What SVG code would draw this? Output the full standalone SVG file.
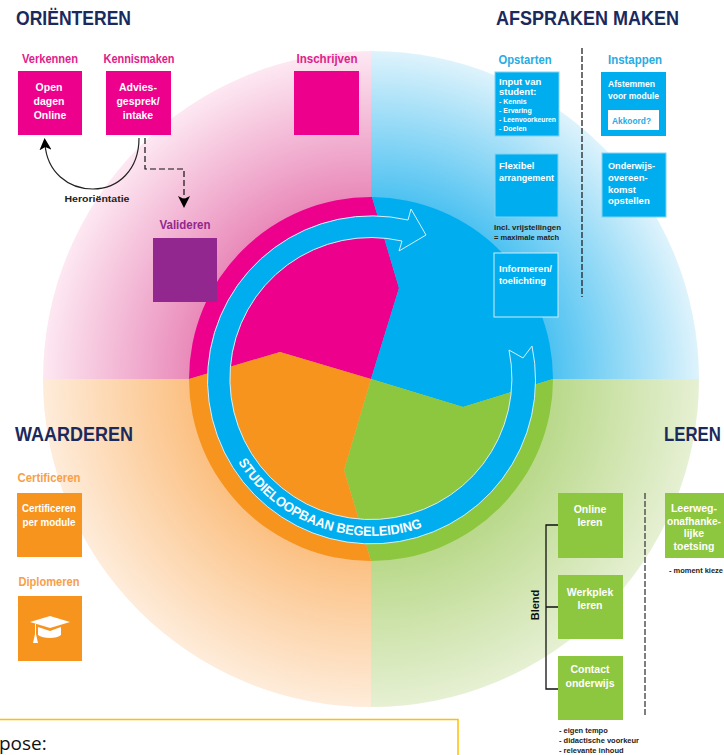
<svg xmlns="http://www.w3.org/2000/svg" xmlns:xlink="http://www.w3.org/1999/xlink" width="724" height="755" viewBox="0 0 724 755">
<style>
text{font-family:"Liberation Sans",Arial,sans-serif}
.h{font-size:21px;font-weight:700;fill:#1b2a5c}
.lab{font-size:12px;font-weight:700;text-anchor:middle}
.in{font-size:10.5px;font-weight:700;fill:#fff;text-anchor:middle}
.inl{font-size:9.5px;font-weight:700;fill:#fff}
.sm{font-size:7px;font-weight:700;fill:#fff}
.note{font-size:7.5px;font-weight:700;fill:#222}
.pink{fill:#ec008c}.blue{fill:#00aeef}.green{fill:#8dc63f}.orange{fill:#f7941d}
</style>
<defs>
<radialGradient id="gp" gradientUnits="userSpaceOnUse" cx="371" cy="379" r="328"><stop offset="0.5" stop-color="#e77fb3"/><stop offset="1" stop-color="#fde8f2"/></radialGradient>
<radialGradient id="gb" gradientUnits="userSpaceOnUse" cx="371" cy="379" r="328"><stop offset="0.5" stop-color="#3dbcf0"/><stop offset="1" stop-color="#def3fc"/></radialGradient>
<radialGradient id="gg" gradientUnits="userSpaceOnUse" cx="371" cy="379" r="328"><stop offset="0.5" stop-color="#b4d682"/><stop offset="1" stop-color="#e6f0d3"/></radialGradient>
<radialGradient id="go" gradientUnits="userSpaceOnUse" cx="371" cy="379" r="328"><stop offset="0.5" stop-color="#fbbb78"/><stop offset="1" stop-color="#feecda"/></radialGradient>
<marker id="ah" viewBox="0 0 12 12" refX="6" refY="6" markerWidth="12" markerHeight="12" orient="auto" markerUnits="userSpaceOnUse"><path d="M0,0L12,6L0,12L3,6Z" fill="#000"/></marker>
<path id="ringtext" d="M 238 462 A 157 157 0 0 0 440 520"/>
</defs>
<rect width="724" height="755" fill="#fff"/>
<g id="background">
<path d="M371,379V51A328,328 0 0 0 43,379Z" fill="url(#gp)"/>
<path d="M371,379V51A328,328 0 0 1 699,379Z" fill="url(#gb)"/>
<path d="M371,379H699A328,328 0 0 1 371,707Z" fill="url(#gg)"/>
<path d="M371,379H43A328,328 0 0 0 371,707Z" fill="url(#go)"/>
</g>
<g id="wheel">
<path class="pink" d="M371,379L399,288L372,197A182,182 0 0 0 189,379L280,352Z"/>
<path class="blue" d="M371,379L399,288L372,197A182,182 0 0 1 553,379L463,407Z"/>
<path class="green" d="M371,379L463,407L553,379A182,182 0 0 1 371,561L344,470Z"/>
<path class="orange" d="M371,379L344,470L371,561A182,182 0 0 1 189,379L280,352Z"/>
</g>
<g id="connectors">
<path d="M139,138C139,170 118,189 93,189C68,189 47,172 45,144" fill="none" stroke="#222" stroke-width="1.2" marker-end="url(#ah)"/>
<path d="M145,138V169H184V202" fill="none" stroke="#111" stroke-width="1.2" stroke-dasharray="6 3" marker-end="url(#ah)"/>
<path d="M582,48V297" fill="none" stroke="#222" stroke-width="1.3" stroke-dasharray="6 2"/>
<path d="M645,493V717" fill="none" stroke="#555" stroke-width="1.5" stroke-dasharray="6 2"/>
<path d="M558,525H546V689H558M546,607H558" fill="none" stroke="#111" stroke-width="1.3"/>
</g>
<g id="ring">
<path class="blue" stroke="#d5effa" stroke-width="1" d="M408,220L411,209L426,235L399,251L402,241A141,141 0 1 0 509,350L523,358L532,346A164,164 0 1 1 408,220Z"/>
<text font-size="13.500" font-weight="700" fill="#fff"><textPath href="#ringtext" xlink:href="#ringtext" textLength="211" lengthAdjust="spacingAndGlyphs">STUDIELOOPBAAN BEGELEIDING</textPath></text>
</g>
<g id="title-orienteren"><text class="h" x="16" y="25" textLength="115" lengthAdjust="spacingAndGlyphs">ORIËNTEREN</text></g>
<g id="title-afspraken"><text class="h" x="496" y="25" textLength="183" lengthAdjust="spacingAndGlyphs">AFSPRAKEN MAKEN</text></g>
<g id="title-waarderen"><text class="h" x="15" y="441" textLength="118" lengthAdjust="spacingAndGlyphs">WAARDEREN</text></g>
<g id="title-leren"><text class="h" transform="translate(664,441) scale(.8,1)">LEREN</text></g>
<g id="verkennen"><text class="lab" x="50" y="63" fill="#e0218a" textLength="56" lengthAdjust="spacingAndGlyphs">Verkennen</text><rect class="pink" x="18" y="71" width="64" height="64"/><text class="in" x="49" y="91">Open</text><text class="in" x="49" y="105">dagen</text><text class="in" x="50" y="119">Online</text></g>
<g id="kennismaken"><text class="lab" x="139" y="63" fill="#e0218a" textLength="71" lengthAdjust="spacingAndGlyphs">Kennismaken</text><rect class="pink" x="106" y="71" width="65" height="64"/><text class="in" x="138" y="91">Advies-</text><text class="in" x="138" y="105">gesprek/</text><text class="in" x="138" y="119">intake</text></g>
<g id="inschrijven"><text class="lab" x="327" y="63" fill="#e0218a" textLength="61" lengthAdjust="spacingAndGlyphs">Inschrijven</text><rect class="pink" x="294" y="71" width="65" height="64"/></g>
<g id="valideren"><text class="lab" x="185" y="229" fill="#92278f" textLength="51" lengthAdjust="spacingAndGlyphs">Valideren</text><rect x="153" y="238" width="64" height="64" fill="#92278f"/></g>
<g id="heroriëntatie"><text x="97" y="202" font-size="9" font-weight="700" fill="#222" text-anchor="middle" textLength="65" lengthAdjust="spacingAndGlyphs">Heroriëntatie</text></g>
<g id="opstarten"><text class="lab" x="525" y="64" fill="#29abe2" textLength="53" lengthAdjust="spacingAndGlyphs">Opstarten</text></g>
<g id="input"><rect class="blue" x="495" y="72" width="64" height="64" stroke="#7fd3f5"/><text class="inl" x="499" y="85">Input van</text><text class="inl" x="499" y="95">student:</text><text class="sm" x="499" y="104">- Kennis</text><text class="sm" x="499" y="113">- Ervaring</text><text class="sm" x="499" y="122" textLength="57" lengthAdjust="spacingAndGlyphs">- Leenvoorkeuren</text><text class="sm" x="499" y="131">- Doelen</text></g>
<g id="flexibel"><rect class="blue" x="495" y="154" width="63" height="63" stroke="#7fd3f5"/><text class="inl" x="499" y="169">Flexibel</text><text class="inl" x="499" y="181" textLength="55" lengthAdjust="spacingAndGlyphs">arrangement</text></g>
<g id="vrijstellingen"><text class="note" x="494" y="230" textLength="67" lengthAdjust="spacingAndGlyphs">Incl. vrijstellingen</text><text class="note" x="494" y="240" textLength="65" lengthAdjust="spacingAndGlyphs">= maximale match</text></g>
<g id="informeren"><rect class="blue" x="494" y="253" width="64" height="64" stroke="#cdeefb"/><text class="inl" x="499" y="272" textLength="53" lengthAdjust="spacingAndGlyphs">Informeren/</text><text class="inl" x="499" y="284" textLength="47" lengthAdjust="spacingAndGlyphs">toelichting</text></g>
<g id="instappen"><text class="lab" x="635" y="64" fill="#29abe2" textLength="54" lengthAdjust="spacingAndGlyphs">Instappen</text></g>
<g id="afstemmen"><rect class="blue" x="601" y="72" width="65" height="64"/><text class="inl" x="608" y="87" textLength="47" lengthAdjust="spacingAndGlyphs">Afstemmen</text><text class="inl" x="608" y="99" textLength="51" lengthAdjust="spacingAndGlyphs">voor module</text><rect x="608" y="110" width="51" height="20" fill="#fff"/><text x="612" y="124" font-size="9.500" font-weight="700" fill="#29abe2" textLength="39" lengthAdjust="spacingAndGlyphs">Akkoord?</text></g>
<g id="overeenkomst"><rect class="blue" x="602" y="153" width="64" height="64" stroke="#7fd3f5"/><text class="inl" x="608" y="169" textLength="47" lengthAdjust="spacingAndGlyphs">Onderwijs-</text><text class="inl" x="608" y="181">overeen-</text><text class="inl" x="608" y="193">komst</text><text class="inl" x="608" y="204">opstellen</text></g>
<g id="certificeren"><text class="lab" x="49" y="482" fill="#f7a04b" textLength="63" lengthAdjust="spacingAndGlyphs">Certificeren</text><rect class="orange" x="17" y="493" width="65" height="64"/><text class="in" x="49" y="512" textLength="54" lengthAdjust="spacingAndGlyphs">Certificeren</text><text class="in" x="49" y="526" textLength="53" lengthAdjust="spacingAndGlyphs">per module</text></g>
<g id="diplomeren"><text class="lab" x="49" y="586" fill="#f7a04b" textLength="61" lengthAdjust="spacingAndGlyphs">Diplomeren</text><rect class="orange" x="18" y="596" width="64" height="65"/>
<path d="M30,622L50,616L70,622L50,628Z" fill="#fff"/><path d="M38,627L50,631L61,627V635C57,639 43,639 38,635Z" fill="#fff"/><path d="M35,624V634L33,643H38L36,634V624Z" fill="#fff"/></g>
<g id="online"><rect class="green" x="558" y="493" width="65" height="65"/><text class="in" x="590" y="513">Online</text><text class="in" x="590" y="526">leren</text></g>
<g id="werkplek"><rect class="green" x="558" y="575" width="65" height="64"/><text class="in" x="590" y="596">Werkplek</text><text class="in" x="590" y="609">leren</text></g>
<g id="contact"><rect class="green" x="558" y="656" width="65" height="64"/><text class="in" x="590" y="673">Contact</text><text class="in" x="590" y="687">onderwijs</text></g>
<g id="blend"><text x="539" y="605" font-size="11" font-weight="700" fill="#111" text-anchor="middle" transform="rotate(-90 539 605)">Blend</text></g>
<g id="toetsing"><rect class="green" x="665" y="493" width="59" height="65"/><text class="in" x="694" y="512">Leerweg-</text><text class="in" x="694" y="525" textLength="54" lengthAdjust="spacingAndGlyphs">onafhanke-</text><text class="in" x="694" y="537">lijke</text><text class="in" x="694" y="550">toetsing</text></g>
<g id="moment"><text class="note" x="669" y="573" textLength="54" lengthAdjust="spacing">- moment kieze</text></g>
<g id="blend-notes"><text class="note" x="559" y="733">- eigen tempo</text><text class="note" x="559" y="743">- didactische voorkeur</text><text class="note" x="559" y="753">- relevante inhoud</text></g>
<g id="purpose"><path d="M0,719.500H458V755" fill="#fff" stroke="#ffc000" stroke-width="1.500"/><text x="-1" y="750" font-size="19" style="font-family:'Open Sans',sans-serif" fill="#111">pose:</text></g>
</svg>
